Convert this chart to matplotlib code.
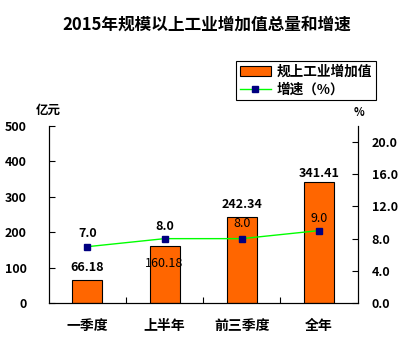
import matplotlib
matplotlib.use('Agg')
import matplotlib.pyplot as plt
import numpy as np

plt.rcParams['font.family'] = ['Noto Sans CJK SC', 'DejaVu Sans']

categories = ['一季度', '上半年', '前三季度', '全年']
value_added = [66.18, 160.18, 242.34, 341.41]   # 亿元
growth = [7.0, 8.0, 8.0, 9.0]                   # %
bar_label_dy = [12, -17, 13, 9]      # px above bar top (negative = inside)
bar_label_bold = [True, False, True, True]
line_label_dy = [13, 12, 15, 12]
line_label_bold = [True, True, False, False]

fig = plt.figure(figsize=(4.14, 3.44), dpi=100)
ax = fig.add_axes([0.1176, 0.119, 0.7464, 0.515])
x = np.arange(len(categories))

ax.bar(x, value_added, width=0.39, color='#FF6600', edgecolor='black', linewidth=0.8,
       label='规上工业增加值', zorder=2)
ax.set_xlim(-0.5, 3.5)
ax.set_ylim(0, 500)
ax.set_yticks(range(0, 501, 100))
ax.set_xticks([0.5, 1.5, 2.5])
ax.set_xticklabels([])
ax.tick_params(axis='x', direction='in', length=4, width=0.8)
ax.tick_params(axis='y', direction='in', length=4, width=0.8, labelsize=9, pad=16)
for lab in ax.get_yticklabels():
    lab.set_fontweight('bold')
for i, c in enumerate(categories):
    ax.text(x[i], -0.13, c, transform=ax.get_xaxis_transform(), ha='center', va='center',
            fontsize=10, fontweight='bold')
ax.spines['top'].set_visible(False)

ax2 = ax.twinx()
ax2.plot(x, growth, color='#00FF00', linewidth=1, marker='s', markersize=5,
         markerfacecolor='#000080', markeredgecolor='#000080', label='增速（%）', zorder=3)
ax2.set_ylim(0, 22)
ax2.set_yticks(range(0, 21, 4))
ax2.set_yticklabels(['%.1f' % v for v in range(0, 21, 4)])
ax2.tick_params(axis='y', direction='in', length=4, width=0.8, labelsize=9, pad=10)
for lab in ax2.get_yticklabels():
    lab.set_fontweight('bold')
ax2.spines['top'].set_visible(False)
for sp in ['left', 'right', 'bottom']:
    ax.spines[sp].set_linewidth(0.8)
    ax2.spines[sp].set_linewidth(0.8)

for i, v in enumerate(value_added):
    ax.annotate('%.2f' % v, (x[i], v), xytext=(0, bar_label_dy[i] * 0.72), textcoords='offset points',
                ha='center', va='center', fontsize=9,
                fontweight='bold' if bar_label_bold[i] else 'normal', zorder=5)
for i, v in enumerate(growth):
    ax2.annotate('%.1f' % v, (x[i], v), xytext=(0, line_label_dy[i] * 0.72), textcoords='offset points',
                 ha='center', va='center', fontsize=9,
                 fontweight='bold' if line_label_bold[i] else 'normal', zorder=5)

fig.text(0.5, 0.927, '2015年规模以上工业增加值总量和增速', ha='center', va='center',
         fontsize=12, fontweight='bold')
fig.text(0.087, 0.68, '亿元', ha='left', va='center', fontsize=9, fontweight='bold')
fig.text(0.853, 0.672, '%', ha='left', va='center', fontsize=8, fontweight='bold')

h1, l1 = ax.get_legend_handles_labels()
h2, l2 = ax2.get_legend_handles_labels()
leg = fig.legend(h1 + h2, l1 + l2, loc='upper left', bbox_to_anchor=(0.569, 0.823),
                 fancybox=False, edgecolor='black', framealpha=1,
                 prop={'weight': 'bold', 'size': 9.8}, borderpad=0.3, labelspacing=0.25,
                 handlelength=2.3, handletextpad=0.4, borderaxespad=0)
leg.get_frame().set_linewidth(0.8)

fig.savefig('out.png', dpi=100)
